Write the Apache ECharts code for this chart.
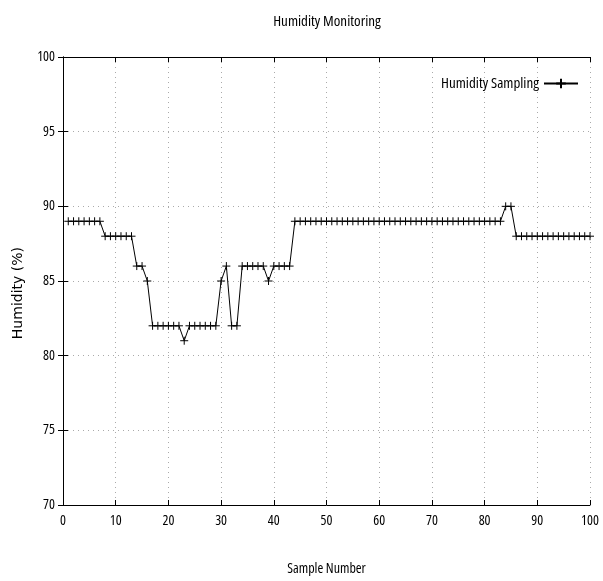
<!DOCTYPE html>
<html>
<head>
<meta charset="utf-8">
<script src="https://cdn.jsdelivr.net/npm/echarts@6/dist/echarts.min.js"></script>
<style>html,body{margin:0;padding:0;background:#fff}#c{width:603px;height:581px}</style>
</head>
<body>
<div id="c"></div>
<script>
const sampleNumbers = [];
for (let i = 1; i <= 100; i++) sampleNumbers.push(i);
const humidity = [
  89,89,89,89,89,89,89,
  88,88,88,88,88,88,
  86,86,85,
  82,82,82,82,82,82,
  81,
  82,82,82,82,82,82,
  85,86,82,82,
  86,86,86,86,86,
  85,
  86,86,86,86,
  89,89,89,89,89,89,89,89,89,89,
  89,89,89,89,89,89,89,89,89,89,
  89,89,89,89,89,89,89,89,89,89,
  89,89,89,89,89,89,89,89,89,89,
  90,90,
  88,88,88,88,88,88,88,88,88,88,88,88,88,88,88
];
const xTicks = [0,10,20,30,40,50,60,70,80,90,100];
const yTicks = [70,75,80,85,90,95,100];

const narrowFam = "'Open Sans'";
const narrow = {fontFamily: narrowFam, fontStyle: 'condensed', fontSize: 14, color: '#000'};
const narrow15 = Object.assign({}, narrow, {fontSize: 15});
const plus = 'path://M0,-4L0,4M-4,0L4,0';
const data = sampleNumbers.map((x, i) => [x, humidity[i]]);

const chart = echarts.init(document.getElementById('c'), null, {renderer: 'canvas'});
const grid = {left: 63, right: 13, top: 57, bottom: 75};
const dotted = {show: true, lineStyle: {color: '#aaa', type: [1, 4], width: 1}};
chart.setOption({
  animation: false,
  backgroundColor: '#fff',
  title: {
    text: 'Humidity Monitoring', left: 322, top: 9, textAlign: 'center',
    textStyle: Object.assign({fontWeight: 'normal'}, narrow15)
  },
  legend: {
    right: 19, top: 71, align: 'right', itemWidth: 34, itemHeight: 12, itemGap: 0,
    textStyle: narrow15,
    data: [{name: 'Humidity Sampling'}]
  },
  grid: grid,
  graphic: [{
    type: 'text', left: 11, top: 247, rotation: Math.PI / 2, originX: 0, originY: 0,
    style: {text: 'Humidity (%)', fill: '#000', font: "14px 'DejaVu Sans'"},
  }],
  xAxis: [{
    type: 'value', min: xTicks[0], max: xTicks[xTicks.length - 1], interval: 10,
    name: 'Sample Number', nameLocation: 'middle', nameGap: 57,
    nameTextStyle: narrow,
    axisLine: {lineStyle: {color: '#000', width: 1}},
    axisTick: {inside: true, length: 5, lineStyle: {color: '#000'}},
    axisLabel: Object.assign({margin: 9}, narrow),
    splitLine: dotted
  }, {
    type: 'value', position: 'top', min: 0, max: 100, interval: 10,
    axisLine: {show: true, lineStyle: {color: '#000', width: 1}},
    axisTick: {inside: true, length: 5, lineStyle: {color: '#000'}},
    axisLabel: {show: false}, splitLine: {show: false}
  }],
  yAxis: [{
    type: 'value', min: yTicks[0], max: yTicks[yTicks.length - 1], interval: 5,
    axisLine: {show: true, lineStyle: {color: '#000', width: 1}},
    axisTick: {show: true, inside: true, length: 5, lineStyle: {color: '#000'}},
    axisLabel: Object.assign({margin: 8}, narrow),
    splitLine: dotted
  }, {
    type: 'value', position: 'right', min: 70, max: 100, interval: 5,
    axisLine: {show: true, lineStyle: {color: '#000', width: 1}},
    axisTick: {show: true, inside: true, length: 5, lineStyle: {color: '#000'}},
    axisLabel: {show: false}, splitLine: {show: false}
  }],
  series: [{
    name: 'Humidity Sampling', type: 'line', data: data,
    symbol: plus, symbolSize: 8, showAllSymbol: true,
    lineStyle: {color: '#000', width: 1},
    itemStyle: {color: 'transparent', borderColor: '#000', borderWidth: 1},
    emphasis: {disabled: true}
  }]
});
</script>
</body>
</html>
